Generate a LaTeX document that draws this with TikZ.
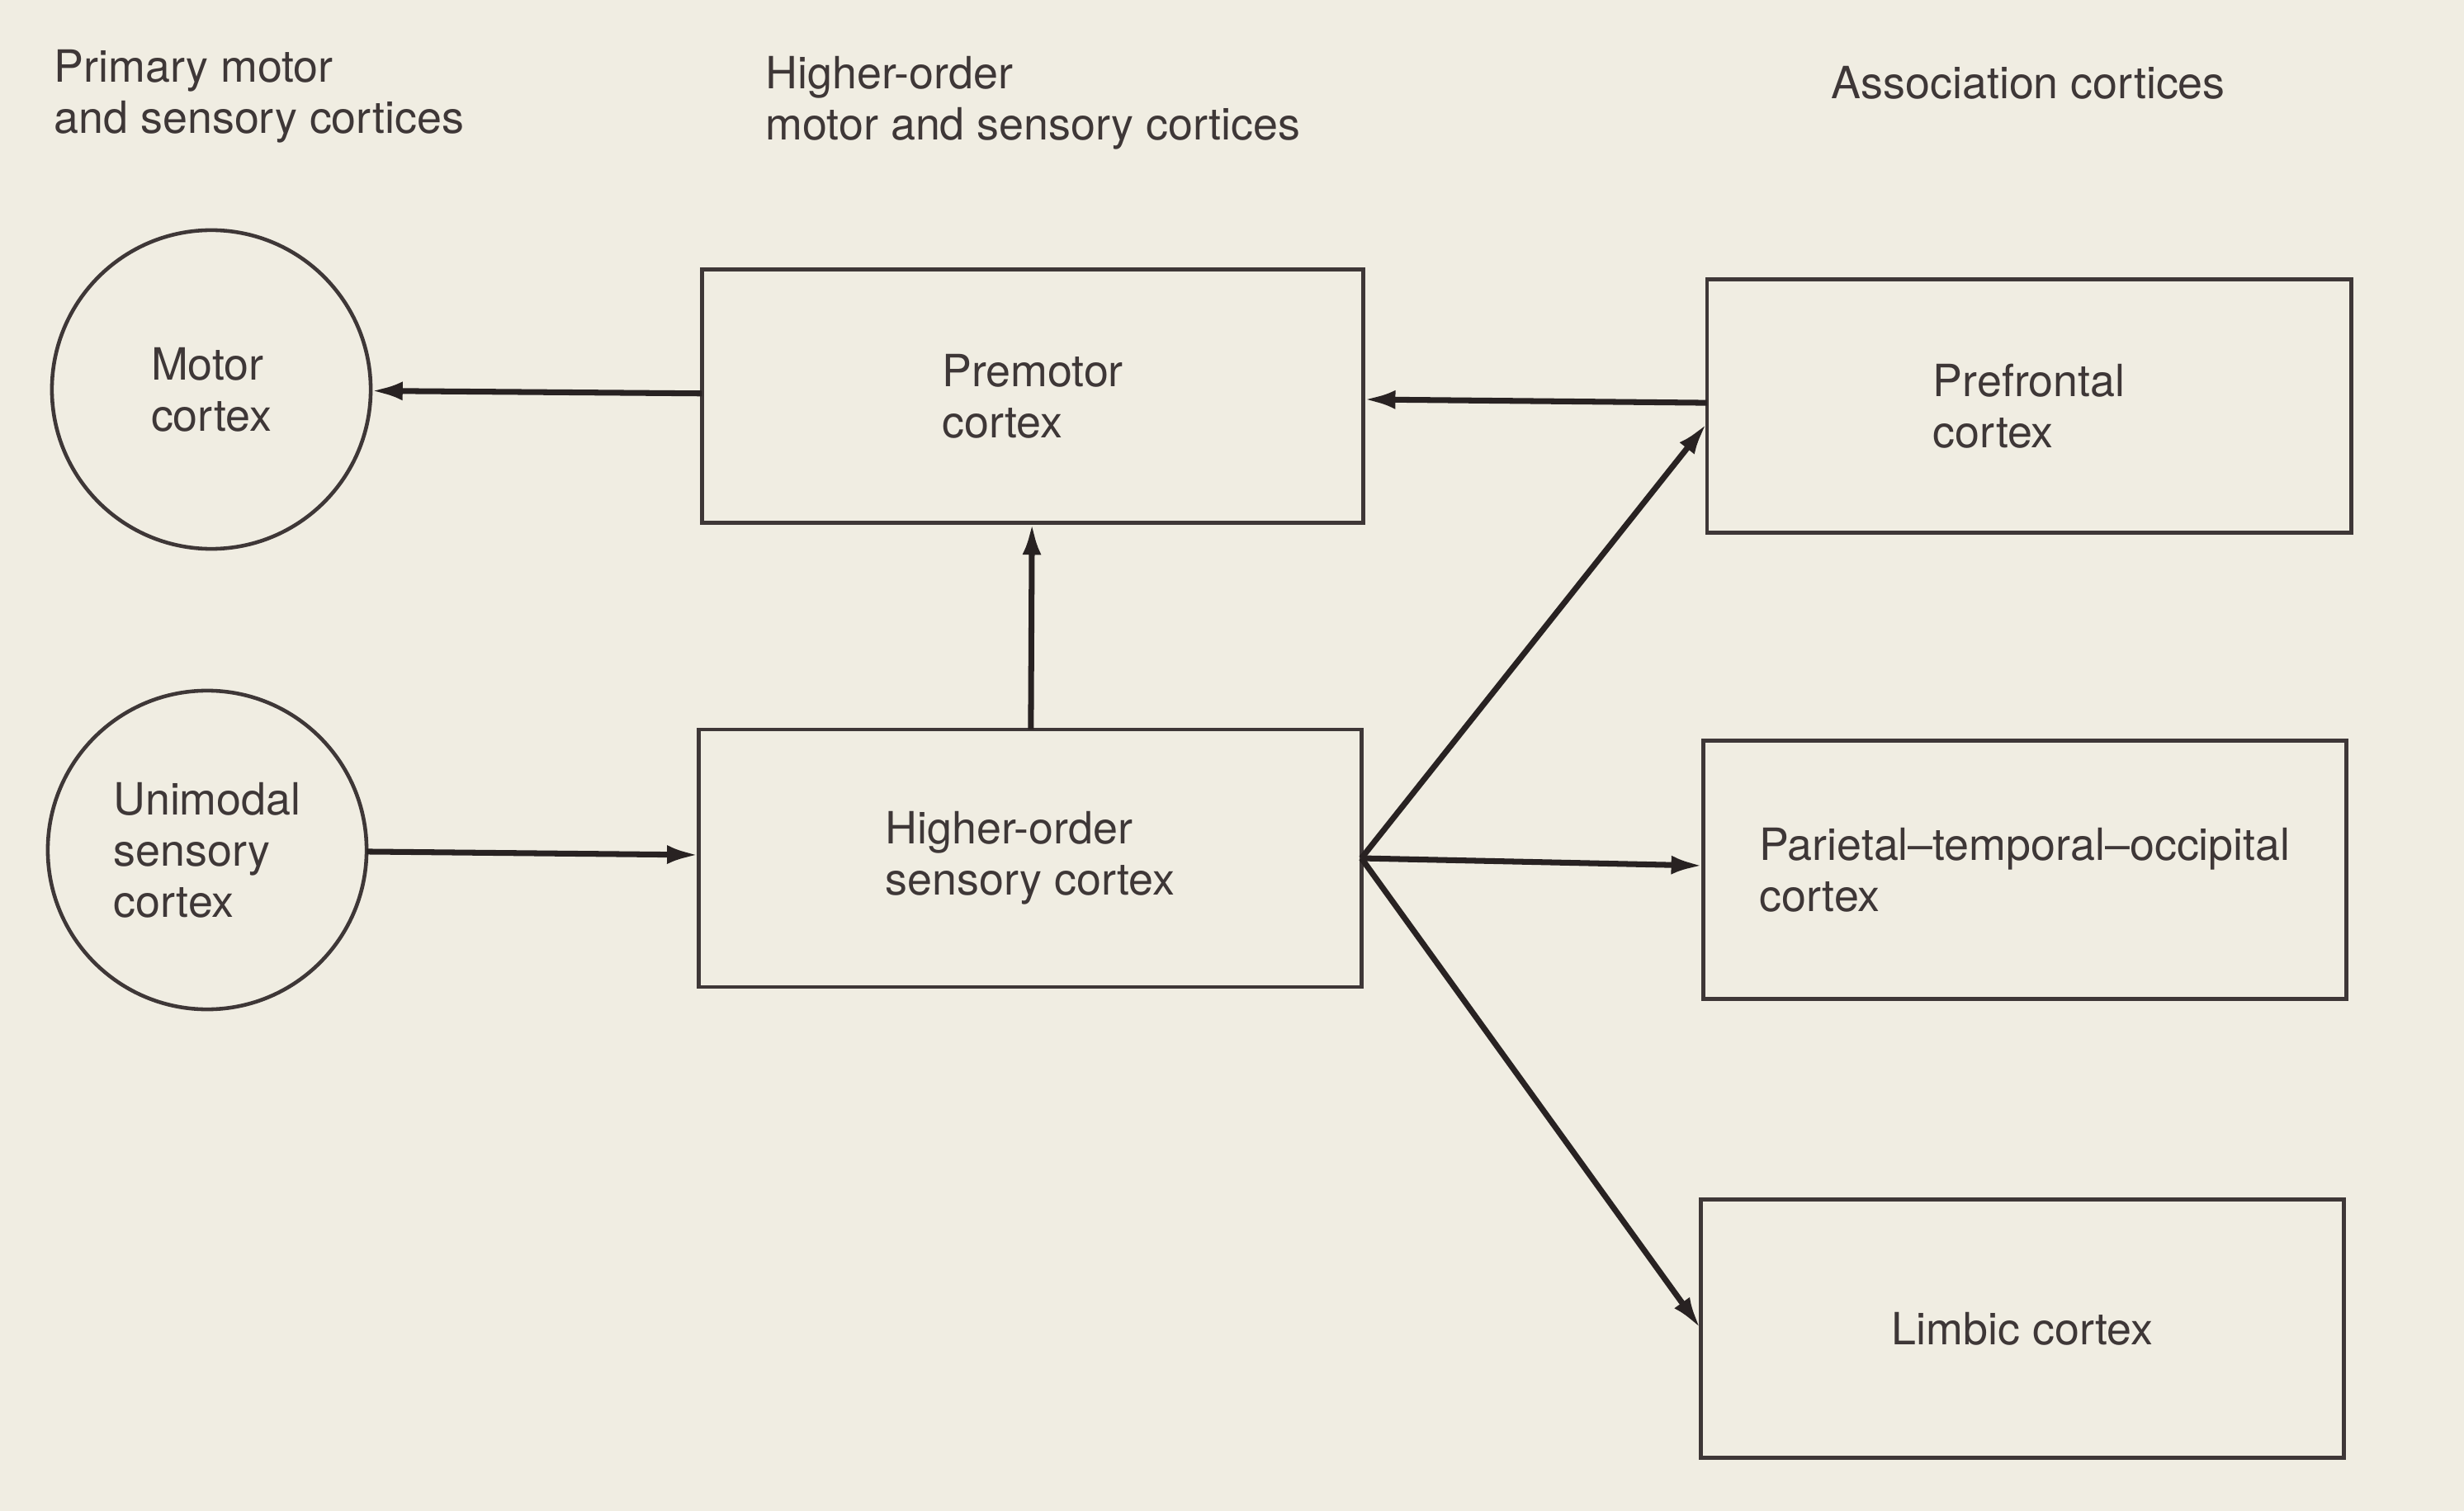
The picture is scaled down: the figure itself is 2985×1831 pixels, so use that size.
\documentclass[tikz,border=0pt]{standalone}
\usepackage{fontspec}
\setmainfont{TeX Gyre Heros}
\usetikzlibrary{arrows.meta}
\definecolor{paper}{RGB}{240,237,226}
\definecolor{ink}{RGB}{62,55,55}
\definecolor{pfeil}{RGB}{40,34,34}

\begin{document}
\begin{tikzpicture}[x=0.01cm, y=-0.01cm, ink,
    txt/.style={font=\fontsize{15.3}{17.6}\selectfont, text=ink, align=left},
    box/.style={txt, draw=ink, line width=1.3pt, inner sep=0pt, outer sep=0pt},
    area/.style={box, circle, minimum size=3.86cm},
    head/.style={txt, anchor=north west, inner sep=0pt},
    pfeil/.style={draw=pfeil, line width=2pt, -{Latex[length=11pt,width=6.5pt]}}]
    \fill[paper] (0,0) rectangle (2985,1831);
    \useasboundingbox (0,0) rectangle (2985,1831);

    % column titles
    \node[head] (t1) at (65,60) {Primary motor\\and sensory cortices};
    \node[head] (t2) at (927,68) {Higher-order\\motor and sensory cortices};
    \node[head] (t3) at (2218,80) {Association cortices};

    % primary cortices
    \node[area] (mc) at (256,472) {Motor\\cortex};
    \node[area] (uc) at (251,1030) {Unimodal\\sensory\\cortex};

    % higher-order cortices
    \node[box, minimum width=8.01cm, minimum height=3.07cm] (pm) at (1251,480) {Premotor\\cortex};
    \node[box, minimum width=8.02cm, minimum height=3.12cm] (hos) at (1248,1040) {Higher-order\\sensory cortex};

    % association cortices
    \node[box, minimum width=7.80cm, minimum height=3.07cm] (pf) at (2458,492) {Prefrontal\\cortex};
    \node[box, minimum width=7.79cm, minimum height=3.13cm] (pt) at (2453,1054) {Parietal\textendash temporal\textendash occipital\\cortex};
    \node[box, minimum width=7.79cm, minimum height=3.13cm] (lc) at (2450,1610) {Limbic cortex};

    \draw[pfeil] (pm) -- (mc);
    \draw[pfeil] (hos) -- (pm);
    \draw[pfeil] (uc) -- (hos);
    \draw[pfeil] (pf) -- (pm);
    \draw[pfeil] (hos.east) -- ([yshift=-0.21cm]pf.west);
    \draw[pfeil] (hos.east) -- ([yshift=0.05cm]pt.west);
    \draw[pfeil] (hos.east) -- (lc.west);

\end{tikzpicture}
\end{document}
